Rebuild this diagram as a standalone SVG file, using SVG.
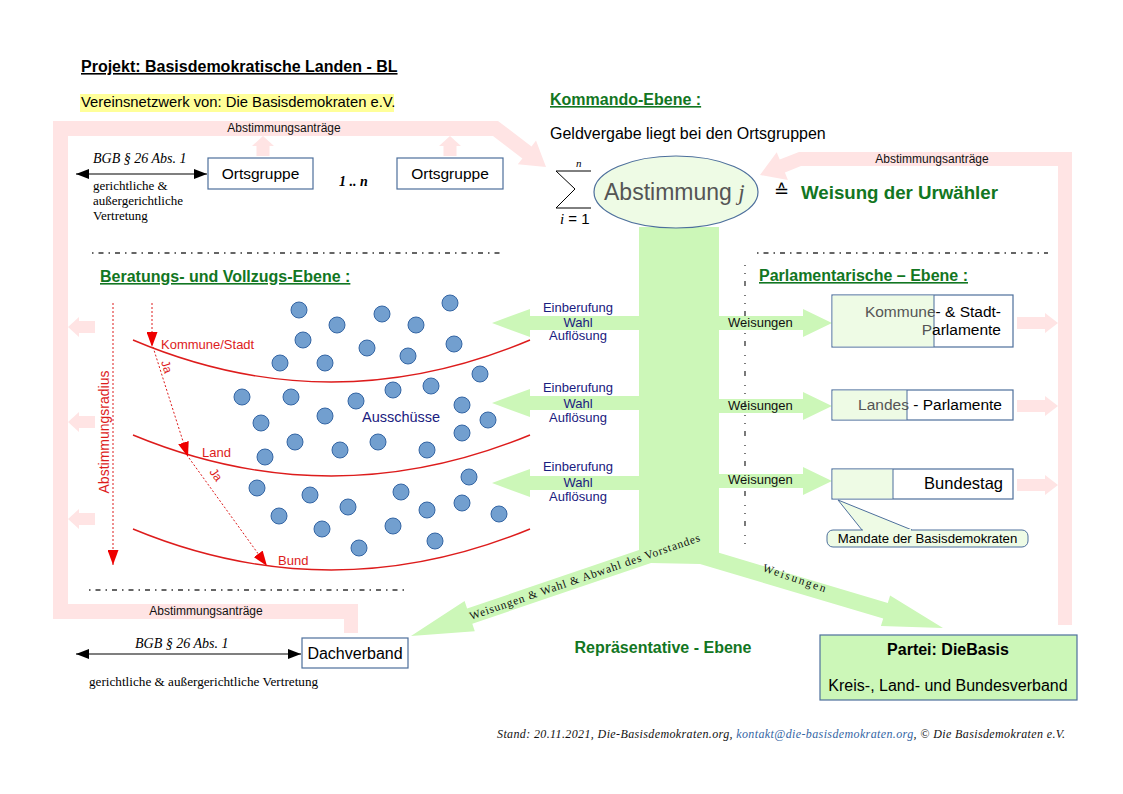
<svg xmlns="http://www.w3.org/2000/svg" width="1123" height="794" viewBox="0 0 1123 794">
<defs>
<style>
.sans{font-family:"Liberation Sans",Arial,sans-serif}
.serif{font-family:"Liberation Serif","Times New Roman",serif}
.head{font-family:"Liberation Sans",Arial,sans-serif;font-weight:bold;font-size:16px;fill:#127622;text-decoration:underline}
.pink{fill:#ffe4e4}
.green{fill:#ccf7b8}
.box{fill:#ffffff;stroke:#4d6f9c;stroke-width:1.2}
.dot{fill:#729fcf;stroke:#3465a4;stroke-width:1}
.red{stroke:#dd1c1c;stroke-width:1.4;fill:none}
.reddot{stroke:#dd1c1c;stroke-width:1;fill:none;stroke-dasharray:2 2}
.dash{stroke:#333;stroke-width:1.3;fill:none;stroke-dasharray:1.5 5 5 5}
.blue{font-family:"Liberation Sans",Arial,sans-serif;font-size:13px;fill:#1a2080;text-anchor:middle}
.ab{font-family:"Liberation Sans",Arial,sans-serif;font-size:12px;fill:#111}
.w{font-family:"Liberation Sans",Arial,sans-serif;font-size:13px;fill:#111}
</style>
<marker id="blk" viewBox="0 0 13 10" refX="13" refY="5" markerWidth="13" markerHeight="10" markerUnits="userSpaceOnUse" orient="auto-start-reverse"><path d="M0,0 L13,5 L0,10 Z" fill="#000"/></marker>
<marker id="rd" viewBox="0 0 15 11" refX="15" refY="5.5" markerWidth="15" markerHeight="11" markerUnits="userSpaceOnUse" orient="auto"><path d="M0,0 L15,5.5 L0,11 Z" fill="#ee0000"/></marker>
</defs>
<rect width="1123" height="794" fill="#ffffff"/>

<!-- headings -->
<g id="title">
<text x="81" y="72" class="sans" font-weight="bold" font-size="16" fill="#000" text-decoration="underline">Projekt: Basisdemokratische Landen - BL</text>
<rect x="80" y="94" width="314" height="18" fill="#ffff99"/>
<text x="81" y="107" class="sans" font-size="14.8" fill="#000">Vereinsnetzwerk von: Die Basisdemokraten e.V.</text>
</g>

<!-- pink feedback bands -->
<g id="pink-bands">
<polygon class="pink" points="53,121 498,121 531.5,146.4 536,140.5 546,167 517.8,164.3 522.4,158.4 493,136 68,136 68,604 358,604 358,633 344,633 344,619 53,619"/>
<polygon class="pink" points="1072,152 1072,625 1058,625 1058,166 801,166 784.9,172.6 787.9,180 760,175 776.7,152.2 779.7,159.6 799,152"/>
<polygon class="pink" points="256.5,156 256.5,146 252,146 263,136 274,146 269.5,146 269.5,156"/>
<polygon class="pink" points="443.5,156 443.5,146 439,146 450,136 461,146 456.5,146 456.5,156"/>
<polygon class="pink" points="68,327 79,317 79,321 95,321 95,333 79,333 79,337"/>
<polygon class="pink" points="68,422 79,412 79,416 95,416 95,428 79,428 79,432"/>
<polygon class="pink" points="68,519 79,509 79,513 95,513 95,525 79,525 79,529"/>
<polygon class="pink" points="1017,317 1045,317 1045,313 1058,323 1045,333 1045,329 1017,329"/>
<polygon class="pink" points="1017,400 1045,400 1045,396 1058,406 1045,416 1045,412 1017,412"/>
<polygon class="pink" points="1017,479 1045,479 1045,475 1058,485 1045,495 1045,491 1017,491"/>
<text x="284" y="132" class="ab" text-anchor="middle">Abstimmungsanträge</text>
<text x="932" y="163" class="ab" text-anchor="middle">Abstimmungsanträge</text>
<text x="206" y="615" class="ab" text-anchor="middle">Abstimmungsanträge</text>
</g>

<!-- green command flow -->
<g id="connectors">
<polygon class="green" points="639,227 719,227 719,552.7 887.8,603.1 890.1,595.5 943,628 880.9,626.1 883.2,618.5 700,564 651,563 472.3,623.7 474.8,631.3 411,636 464.6,601 467.1,608.5 639,550"/>
<polygon class="green" points="640,316 530,316 530,309 492,323 530,337 530,330 640,330"/>
<polygon class="green" points="640,396 530,396 530,389 492,403 530,417 530,410 640,410"/>
<polygon class="green" points="640,476 530,476 530,469 492,483 530,497 530,490 640,490"/>
<polygon class="green" points="718,316 803,316 803,309 832,323 803,337 803,330 718,330"/>
<polygon class="green" points="718,399 803,399 803,392 832,406 803,420 803,413 718,413"/>
<polygon class="green" points="718,474 803,474 803,467 832,481 803,495 803,488 718,488"/>
<text class="blue" x="578" y="312">Einberufung</text>
<text class="blue" x="578" y="327">Wahl</text>
<text class="blue" x="578" y="340">Auflösung</text>
<text class="blue" x="578" y="392">Einberufung</text>
<text class="blue" x="578" y="408">Wahl</text>
<text class="blue" x="578" y="422">Auflösung</text>
<text class="blue" x="578" y="471">Einberufung</text>
<text class="blue" x="578" y="487">Wahl</text>
<text class="blue" x="578" y="501">Auflösung</text>
<text class="w" x="728" y="327">Weisungen</text>
<text class="w" x="728" y="410">Weisungen</text>
<text class="w" x="728" y="484">Weisungen</text>
<text class="serif" font-size="11.5" fill="#111" transform="translate(471,620) rotate(-19)" textLength="243" lengthAdjust="spacing">Weisungen &amp; Wahl &amp; Abwahl des Vorstandes</text>
<text class="serif" font-size="11.5" fill="#111" transform="translate(762,571) rotate(19)" textLength="66" lengthAdjust="spacing">Weisungen</text>
<!-- double arrows -->
<line x1="76" y1="174" x2="207" y2="174" stroke="#000" stroke-width="1.2" marker-start="url(#blk)" marker-end="url(#blk)"/>
<line x1="76" y1="654" x2="301" y2="654" stroke="#000" stroke-width="1.2" marker-start="url(#blk)" marker-end="url(#blk)"/>
<!-- separators -->
<line class="dash" x1="92" y1="253" x2="504" y2="253"/>
<line class="dash" x1="757" y1="253" x2="1048" y2="253"/>
<line class="dash" x1="89" y1="590" x2="408" y2="590"/>
<line x1="745" y1="265" x2="745" y2="548" stroke="#333" stroke-width="1.3" stroke-dasharray="1 7 1 7 5 9"/>
</g>

<!-- top left legal text -->
<g id="bgb-top">
<text x="93" y="163" class="serif" font-style="italic" font-size="14" fill="#000">BGB § 26 Abs. 1</text>
<text x="93" y="190" class="serif" font-size="13" fill="#000">gerichtliche &amp;</text>
<text x="93" y="205" class="serif" font-size="13" fill="#000">außergerichtliche</text>
<text x="93" y="220" class="serif" font-size="13" fill="#000">Vertretung</text>
</g>

<g id="ortsgruppe1">
<rect class="box" x="208" y="158" width="105" height="31"/>
<text x="260.5" y="179" class="sans" font-size="15.5" text-anchor="middle" fill="#000">Ortsgruppe</text>
</g>
<text x="339" y="186" class="serif" font-style="italic" font-weight="bold" font-size="14" fill="#000">1 .. n</text>
<g id="ortsgruppe2">
<rect class="box" x="397" y="158" width="106" height="31"/>
<text x="450" y="179" class="sans" font-size="15.5" text-anchor="middle" fill="#000">Ortsgruppe</text>
</g>

<!-- Kommando -->
<g id="kommando">
<text x="550" y="105" class="head">Kommando-Ebene :</text>
<text x="550" y="139" class="sans" font-size="16" fill="#000">Geldvergabe liegt bei den Ortsgruppen</text>
<polyline points="591,171 556,171 575,189 556,208 591,208" fill="none" stroke="#000" stroke-width="1"/>
<text x="576" y="167" class="serif" font-style="italic" font-size="11" fill="#000">n</text>
<text x="560" y="224" class="sans" font-size="15" fill="#000"><tspan class="serif" font-style="italic">i</tspan> = 1</text>
</g>
<g id="abstimmung">
<ellipse cx="676" cy="192" rx="82" ry="36" fill="#eefbe5" stroke="#4d6f9c" stroke-width="1.2"/>
<text x="604" y="200" class="sans" font-size="23" fill="#555">Abstimmung <tspan class="serif" font-style="italic">j</tspan></text>
</g>
<text x="774" y="197" font-family="DejaVu Sans,sans-serif" font-size="18" fill="#000">≙</text>
<text x="801" y="199" class="sans" font-weight="bold" font-size="18.7" fill="#127622">Weisung der Urwähler</text>

<!-- Beratungs -->
<g id="beratung">
<text x="100" y="282" class="head">Beratungs- und Vollzugs-Ebene :</text>
<path class="red" d="M133,340 Q331,424 530,340"/>
<path class="red" d="M133,435 Q331,517 530,435"/>
<path class="red" d="M133,529 Q331,611 530,529"/>
<text x="161" y="349" class="sans" font-size="13" fill="#dd1c1c">Kommune/Stadt</text>
<text x="202" y="457" class="sans" font-size="13" fill="#dd1c1c">Land</text>
<text x="278" y="565" class="sans" font-size="13" fill="#dd1c1c">Bund</text>
<line class="reddot" x1="113" y1="303" x2="113" y2="565" marker-end="url(#rd)"/>
<line class="reddot" x1="152" y1="303" x2="152" y2="347" marker-end="url(#rd)"/>
<line class="reddot" x1="153" y1="347" x2="188" y2="457" marker-end="url(#rd)"/>
<line class="reddot" x1="189" y1="458" x2="267" y2="566" marker-end="url(#rd)"/>
<text x="161" y="362" class="sans" font-size="12" fill="#dd1c1c" transform="rotate(72 161 362)">Ja</text>
<text x="209" y="472" class="sans" font-size="12" fill="#dd1c1c" transform="rotate(54 209 472)">Ja</text>
<text x="109" y="432" class="sans" font-size="14" fill="#dd1c1c" text-anchor="middle" transform="rotate(-90 109 432)">Abstimmungsradius</text>
</g>
<g id="ausschuesse">
<circle class="dot" cx="299" cy="310" r="8"/><circle class="dot" cx="382" cy="314" r="8"/><circle class="dot" cx="450" cy="303" r="8"/>
<circle class="dot" cx="337" cy="325" r="8"/><circle class="dot" cx="416" cy="325" r="8"/><circle class="dot" cx="303" cy="340" r="8"/>
<circle class="dot" cx="367" cy="348" r="8"/><circle class="dot" cx="454" cy="344" r="8"/><circle class="dot" cx="408" cy="356" r="8"/>
<circle class="dot" cx="280" cy="363" r="8"/><circle class="dot" cx="325" cy="363" r="8"/>
<circle class="dot" cx="480" cy="374" r="8"/><circle class="dot" cx="242" cy="397" r="8"/><circle class="dot" cx="291" cy="397" r="8"/>
<circle class="dot" cx="356" cy="401" r="8"/><circle class="dot" cx="393" cy="390" r="8"/><circle class="dot" cx="431" cy="386" r="8"/>
<circle class="dot" cx="462" cy="405" r="8"/><circle class="dot" cx="325" cy="416" r="8"/><circle class="dot" cx="261" cy="423" r="8"/>
<circle class="dot" cx="488" cy="420" r="8"/><circle class="dot" cx="462" cy="433" r="8"/><circle class="dot" cx="295" cy="442" r="8"/>
<circle class="dot" cx="340" cy="450" r="8"/><circle class="dot" cx="378" cy="442" r="8"/><circle class="dot" cx="427" cy="450" r="8"/>
<circle class="dot" cx="265" cy="457" r="8"/>
<circle class="dot" cx="469" cy="477" r="8"/><circle class="dot" cx="257" cy="488" r="8"/><circle class="dot" cx="310" cy="495" r="8"/>
<circle class="dot" cx="401" cy="492" r="8"/><circle class="dot" cx="348" cy="507" r="8"/><circle class="dot" cx="427" cy="510" r="8"/>
<circle class="dot" cx="462" cy="503" r="8"/><circle class="dot" cx="499" cy="514" r="8"/><circle class="dot" cx="279" cy="516" r="8"/>
<circle class="dot" cx="322" cy="529" r="8"/><circle class="dot" cx="393" cy="526" r="8"/><circle class="dot" cx="359" cy="548" r="8"/>
<circle class="dot" cx="435" cy="541" r="8"/>
<text x="362" y="422" class="sans" font-size="14.5" fill="#1a2080">Ausschüsse</text>
</g>

<!-- Parlamentarische -->
<text x="759" y="281" class="head">Parlamentarische – Ebene :</text>
<g id="kommune-parlamente">
<rect class="box" x="832" y="295" width="181" height="52"/>
<rect x="832.6" y="295.6" width="101.4" height="50.8" fill="#eefbe5"/>
<line x1="934" y1="295" x2="934" y2="347" stroke="#4d6f9c" stroke-width="1"/>
<text x="1001" y="317" class="sans" font-size="15.5" text-anchor="end" fill="#000"><tspan fill="#555">Kommune</tspan>- &amp; Stadt-</text>
<text x="1001" y="335" class="sans" font-size="15.5" text-anchor="end" fill="#000"><tspan fill="#555">P</tspan>arlamente</text>
</g>
<g id="landes-parlamente">
<rect class="box" x="832" y="390" width="181" height="30"/>
<rect x="832.6" y="390.6" width="74.4" height="28.8" fill="#eefbe5"/>
<line x1="907" y1="390" x2="907" y2="420" stroke="#4d6f9c" stroke-width="1"/>
<text x="1002" y="410" class="sans" font-size="15.5" text-anchor="end" fill="#000"><tspan fill="#555">Landes</tspan> - Parlamente</text>
</g>
<g id="bundestag">
<rect class="box" x="832" y="469" width="181" height="30"/>
<rect x="832.6" y="469.6" width="60.4" height="28.8" fill="#eefbe5"/>
<line x1="893" y1="469" x2="893" y2="499" stroke="#4d6f9c" stroke-width="1"/>
<text x="1003" y="489" class="sans" font-size="16.5" text-anchor="end" fill="#000">Bundestag</text>
</g>
<g id="mandate">
<path d="M862,530 L838,500 L912,530" fill="#eefbe5" stroke="#4d6f9c" stroke-width="1"/>
<rect x="827" y="530" width="201" height="17" rx="6" fill="#eefbe5" stroke="#4d6f9c" stroke-width="1"/>
<line x1="863" y1="530" x2="911" y2="530" stroke="#eefbe5" stroke-width="2"/>
<text x="927.5" y="543" class="sans" font-size="13.2" text-anchor="middle" fill="#000">Mandate der Basisdemokraten</text>
</g>

<!-- bottom -->
<g id="bgb-bottom">
<text x="135" y="648" class="serif" font-style="italic" font-size="14" fill="#000">BGB § 26 Abs. 1</text>
<text x="89" y="686" class="serif" font-size="13.2" fill="#000">gerichtliche &amp; außergerichtliche Vertretung</text>
</g>
<g id="dachverband">
<rect class="box" x="302" y="638" width="106" height="30"/>
<text x="355" y="659" class="sans" font-size="16" text-anchor="middle" fill="#000">Dachverband</text>
</g>
<text x="663" y="653" class="sans" font-weight="bold" font-size="16" text-anchor="middle" fill="#127622">Repräsentative - Ebene</text>
<g id="partei">
<rect x="820" y="635" width="257" height="65" fill="#ccf7b8" stroke="#4d6f9c" stroke-width="1.2"/>
<text x="948" y="655" class="sans" font-weight="bold" font-size="16" text-anchor="middle" fill="#000">Partei: DieBasis</text>
<text x="948" y="691" class="sans" font-size="16" text-anchor="middle" fill="#000">Kreis-, Land- und Bundesverband</text>
</g>
<g id="footer">
<text x="497" y="738" class="serif" font-style="italic" font-size="12" fill="#111" textLength="568" lengthAdjust="spacing">Stand: 20.11.2021, Die-Basisdemokraten.org, <tspan fill="#3465a4">kontakt@die-basisdemokraten.org</tspan>, © Die Basisdemokraten e.V.</text>
</g>
</svg>
